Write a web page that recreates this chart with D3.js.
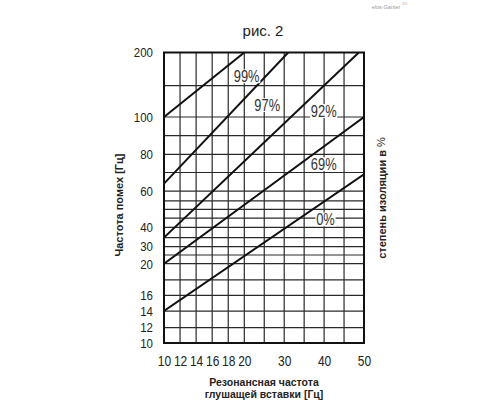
<!DOCTYPE html>
<html><head><meta charset="utf-8">
<script src="https://cdn.jsdelivr.net/npm/d3@7"></script>
<style>
html,body{margin:0;padding:0;background:#fff;}
svg{display:block;}
.num{font-family:"Liberation Sans",Arial,sans-serif;}
.bold{font-family:"Liberation Sans",Arial,sans-serif;font-weight:bold;}
</style></head>
<body>
<script>
// ---- data ----
const xGrid = [10,12,14,16,18,20,25,30,35,40,45,50];
const xTickLabels = [10,12,14,16,18,20,30,40,50];
const yGrid = [10,12,14,16,18,20,25,30,35,40,45,50,55,60,70,80,90,100,150,200];
const yTickLabels = [10,12,14,16,20,30,40,60,80,100,200];
const seriesNames = ["99%","97%","92%","69%","0%"];
const seriesX = [[10,20],[10,31],[10,48.7],[10,50],[10,50]];
const seriesY = [[100,200],[64,200],[35,200],[20,100],[14,69]];
const labelX = [20.6,25.75,39.9,39.9,40.35];
const labelY = [164,119,109.5,74.6,44.3];

// ---- layout (distorted axes of the original drawing) ----
const W=500,H=400;
const plot={left:164,right:364,top:52.5,bottom:343};
const xBreaks=[10,20,50], xBreakFrac=[0,0.4015,1];
const yFrac=[0,0.053,0.110,0.164,0.217,0.273,0.303,0.332,0.363,0.398,0.430,0.460,0.489,0.523,0.587,0.649,0.714,0.778,0.886,1];
const narrow=0.8;

const x=d3.scaleLinear().domain(xBreaks)
  .range(xBreakFrac.map(f=>plot.left+f*(plot.right-plot.left)));
const y=d3.scaleLinear().domain(yGrid)
  .range(yFrac.map(f=>plot.bottom-f*(plot.bottom-plot.top)));

const svg=d3.select("body").append("svg").attr("width",W).attr("height",H);

// title + watermark
svg.append("text").attr("x",263).attr("y",36).attr("text-anchor","middle")
  .attr("font-family","Liberation Sans, Arial, sans-serif").attr("font-size",15).attr("fill","#222").text("рис. 2");
svg.append("text").attr("x",386).attr("y",9).attr("text-anchor","middle")
  .attr("font-family","Liberation Sans, Arial, sans-serif").attr("font-size",5.5).attr("fill","#999").text("elos·Ganter");
svg.append("text").attr("x",402).attr("y",5).attr("font-family","Liberation Sans, Arial, sans-serif")
  .attr("font-size",4).attr("fill","#aaa").text("ZD");

// grid
const g=svg.append("g");
g.selectAll("line.v").data(xGrid).join("line").attr("class","v")
  .attr("x1",d=>x(d)).attr("x2",d=>x(d)).attr("y1",plot.top).attr("y2",plot.bottom)
  .attr("stroke","#2a2a2a").attr("stroke-width",1.2);
g.selectAll("line.h").data(yGrid).join("line").attr("class","h")
  .attr("y1",d=>y(d)).attr("y2",d=>y(d)).attr("x1",plot.left).attr("x2",plot.right)
  .attr("stroke","#2a2a2a").attr("stroke-width",1.2);

// series lines
svg.append("clipPath").attr("id","clip").append("rect")
  .attr("x",plot.left).attr("y",plot.top).attr("width",plot.right-plot.left).attr("height",plot.bottom-plot.top);
const line=d3.line().x(d=>x(d[0])).y(d=>y(d[1]));
svg.append("g").attr("clip-path","url(#clip)").selectAll("path").data(seriesNames).join("path")
  .attr("d",(d,i)=>line(seriesX[i].map((v,j)=>[v,seriesY[i][j]])))
  .attr("fill","none").attr("stroke","#111").attr("stroke-width",2);

// frame
svg.append("rect").attr("x",plot.left).attr("y",plot.top)
  .attr("width",plot.right-plot.left).attr("height",plot.bottom-plot.top)
  .attr("fill","none").attr("stroke","#111").attr("stroke-width",2);

// series labels with white backing
seriesNames.forEach((n,i)=>{
  const lg=svg.append("g").attr("transform",`translate(${x(labelX[i])},${y(labelY[i])}) scale(0.78,1)`);
  const bg=lg.append("rect").attr("fill","#fff");
  const t=lg.append("text").attr("class","num").attr("x",0).attr("y",0)
    .attr("text-anchor","middle").attr("dominant-baseline","central")
    .attr("font-size",16.5).attr("fill","#333").text(n);
  const b=t.node().getBBox();
  bg.attr("x",b.x-1).attr("y",b.y+2).attr("width",b.width+2).attr("height",b.height-4);
});

// axes
const yAxis=d3.axisLeft(y).tickValues(yTickLabels).tickSize(0).tickPadding(0).tickFormat(d3.format("d"));
const ya=svg.append("g").attr("transform",`translate(${153},0)`).call(yAxis);
ya.select(".domain").remove();
ya.selectAll("text").attr("class","num").attr("font-size",13.5).attr("fill","#222")
  .attr("transform",`scale(0.85,1)`);

const xAxis=d3.axisBottom(x).tickValues(xTickLabels).tickSize(0).tickPadding(0).tickFormat(d3.format("d"));
const xa=svg.append("g").attr("transform",`translate(0,${355})`).call(xAxis);
xa.select(".domain").remove();
xa.selectAll("text").attr("class","num").attr("font-size",15).attr("fill","#222")
  .attr("transform",`scale(${narrow},1)`);

// axis titles
svg.append("text").attr("class","bold").attr("transform","translate(123,205) rotate(-90)")
  .attr("text-anchor","middle").attr("font-size",11).attr("fill","#222").text("Частота помех [Гц]");
const rt=svg.append("text").attr("class","bold").attr("transform","translate(386,198) rotate(-90)")
  .attr("text-anchor","middle").attr("font-size",11).attr("fill","#222");
rt.append("tspan").text("степень изоляции в ");
rt.append("tspan").attr("font-weight","normal").attr("dy",-1).text("%");
svg.append("text").attr("class","bold").attr("x",264).attr("y",386)
  .attr("text-anchor","middle").attr("font-size",10.5).attr("fill","#222").text("Резонансная частота");
svg.append("text").attr("class","bold").attr("x",264).attr("y",398)
  .attr("text-anchor","middle").attr("font-size",10.5).attr("fill","#222").text("глушащей вставки [Гц]");
</script>
</body></html>
